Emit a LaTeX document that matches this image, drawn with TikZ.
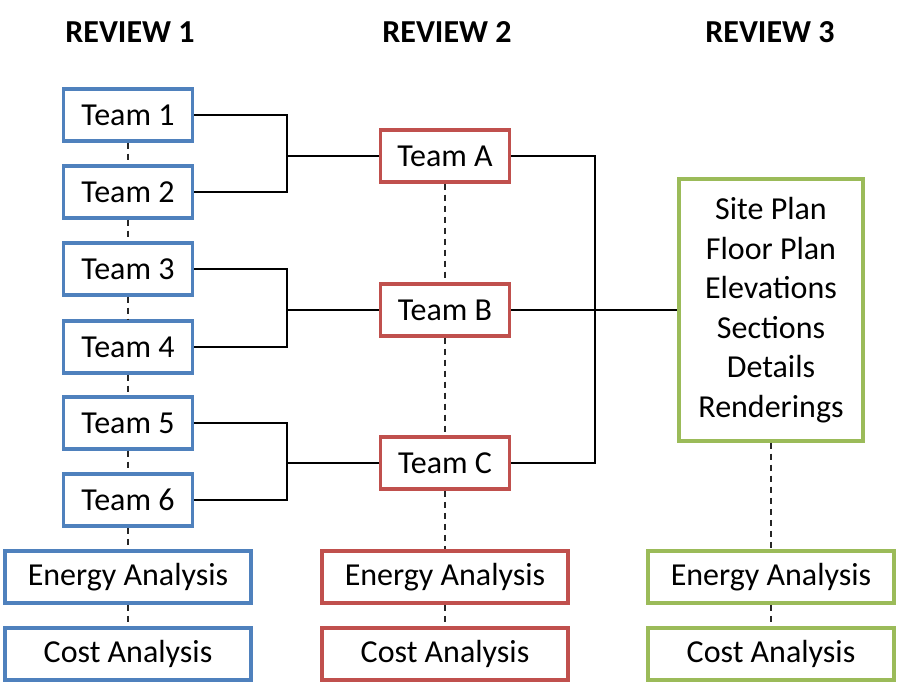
\documentclass[tikz,border=0pt]{standalone}
\usepackage{fontspec}
\setmainfont{Carlito}
\usepackage{tikz}
\usetikzlibrary{positioning, backgrounds}
\definecolor{revblue}{HTML}{4F81BD}
\definecolor{revred}{HTML}{C0504D}
\definecolor{revgreen}{HTML}{9BBB59}
\tikzstyle{box} = [rectangle, line width=3.5pt, fill=white, text centered, minimum width=129pt, minimum height=52pt, inner sep=0pt, font=\fontsize{32}{39.5}\selectfont]
\tikzstyle{widebox} = [box, minimum width=246pt]
\tikzstyle{link} = [line width=1.5pt, black]
\tikzstyle{dashlink} = [line width=1.5pt, black!85, dash pattern=on 6pt off 5pt]
\tikzstyle{head} = [font=\fontsize{32}{38}\selectfont\bfseries]

\begin{document}
\begin{tikzpicture}[x=1pt, y=-1pt]

    \useasboundingbox [fill=white] (0,0) rectangle (900,700);

    % headings
    \node (h1) [head] at (130, 32) {REVIEW 1};
    \node (h2) [head] at (447, 32) {REVIEW 2};
    \node (h3) [head] at (770, 32) {REVIEW 3};

    % review 1
    \node (t1) [box, draw=revblue] at (128, 115) {Team 1};
    \node (t2) [box, draw=revblue] at (128, 192) {Team 2};
    \node (t3) [box, draw=revblue] at (128, 269) {Team 3};
    \node (t4) [box, draw=revblue] at (128, 347) {Team 4};
    \node (t5) [box, draw=revblue] at (128, 423) {Team 5};
    \node (t6) [box, draw=revblue] at (128, 500) {Team 6};
    \node (e1) [widebox, draw=revblue] at (128, 577) {Energy Analysis};
    \node (c1) [widebox, draw=revblue] at (128, 654) {Cost Analysis};

    % review 2
    \node (tA) [box, draw=revred] at (445, 156) {Team A};
    \node (tB) [box, draw=revred] at (445, 310) {Team B};
    \node (tC) [box, draw=revred] at (445, 463) {Team C};
    \node (e2) [widebox, draw=revred] at (445, 577) {Energy Analysis};
    \node (c2) [widebox, draw=revred] at (445, 654) {Cost Analysis};

    % review 3
    \node (plans) [box, draw=revgreen, minimum width=184pt, minimum height=262pt, align=center] at (771, 310)
        {Site Plan\\Floor Plan\\Elevations\\Sections\\Details\\Renderings};
    \node (e3) [widebox, draw=revgreen] at (771, 577) {Energy Analysis};
    \node (c3) [widebox, draw=revgreen] at (771, 654) {Cost Analysis};

    % bracket joins
    \coordinate (j1) at (287, 156);
    \coordinate (j2) at (287, 310);
    \coordinate (j3) at (287, 463);
    \coordinate (j4) at (595, 310);

    \draw [dashlink] (t1) -- (t2) -- (t3) -- (t4) -- (t5) -- (t6) -- (e1) -- (c1);
    \draw [dashlink] (tA) -- (tB) -- (tC) -- (e2) -- (c2);
    \draw [dashlink] (plans) -- (e3) -- (c3);

    \draw [link] (t1.east) -| (j1) |- (t2.east);
    \draw [link] (t3.east) -| (j2) |- (t4.east);
    \draw [link] (t5.east) -| (j3) |- (t6.east);
    \draw [link] (j1) -- (tA);
    \draw [link] (j2) -- (tB);
    \draw [link] (j3) -- (tC);

    \draw [link] (tA.east) -| (j4) |- (tC.east);
    \draw [link] (tB) -- (plans);

\end{tikzpicture}
\end{document}
